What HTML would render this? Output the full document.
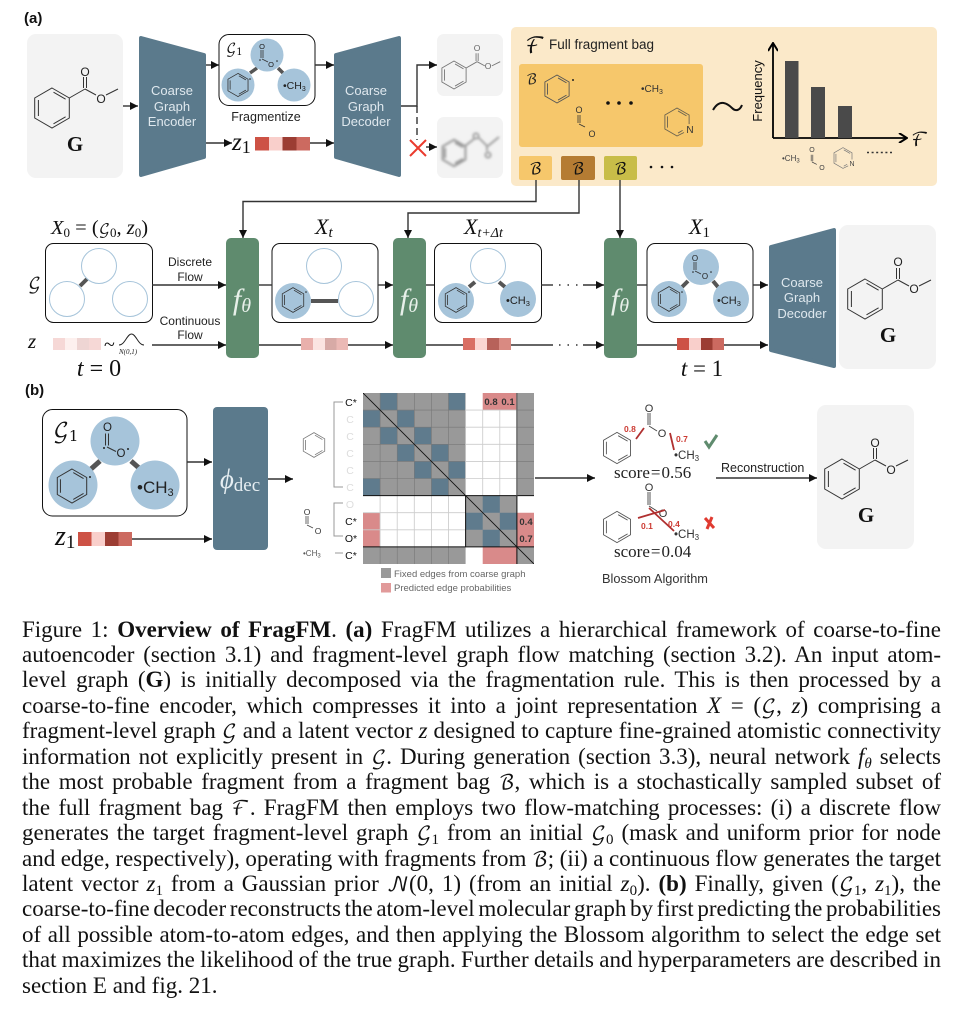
<!DOCTYPE html>
<html><head><meta charset="utf-8"><title>Figure 1: Overview of FragFM</title>
<style>
html,body{margin:0;padding:0;background:#fff}
#p{position:relative;width:953px;height:1017px;overflow:hidden;background:#fff;filter:blur(.3px)}
svg{position:absolute;left:0;top:0}
text{font-family:"Liberation Sans",sans-serif}
.m{font-family:"Liberation Serif",serif;font-style:italic}
.r{font-family:"Liberation Serif",serif}
.cal{font-family:"DejaVu Math TeX Gyre","DejaVu Serif","DejaVu Sans","Liberation Serif",serif;font-style:normal}
.w{fill:#dfe8ee;font-size:13px;text-anchor:middle}
.wf{fill:#e8f0ea;font-size:30px;text-anchor:middle}
.l{stroke:#333;stroke-width:1.4;fill:none}
.ar{stroke:#333;stroke-width:1.4;fill:none;marker-end:url(#a)}
#c{position:absolute;left:22px;top:616.5px;width:919px;font-family:"Liberation Serif",serif;font-size:23px;color:#111;word-spacing:-2.5px}
#c div{height:25.46px;line-height:25.46px;text-align:justify;text-align-last:justify;white-space:normal}
#c div.e{text-align-last:left;word-spacing:0}
#c sub{font-size:15px;line-height:0;vertical-align:-4px}
#c .cal{font-size:20px;line-height:0}
</style></head><body><div id="p">
<svg width="953" height="1017" viewBox="0 0 953 1017" xmlns="http://www.w3.org/2000/svg">
<defs>
<marker id="a" viewBox="0 0 10 10" refX="10" refY="5" markerWidth="8" markerHeight="8" markerUnits="userSpaceOnUse" orient="auto"><path d="M0 0L10 5L0 10z" fill="#111"/></marker>
<marker id="o" viewBox="0 0 10 10" refX="9" refY="5" markerWidth="10" markerHeight="10" markerUnits="userSpaceOnUse" orient="auto"><path d="M1 0L9 5L1 10" fill="none" stroke="#000" stroke-width="2"/></marker>
<filter id="bl" x="-20%" y="-20%" width="140%" height="140%"><feGaussianBlur stdDeviation="1.3"/></filter>
<g id="ring" fill="none">
<path vector-effect="non-scaling-stroke" d="M0-20L17.3-10V10L0 20L-17.3 10V-10zM-13.6-8V8M1.5-15.8L13.6-8.8M1.5 15.8L13.6 8.8"/>
</g>
<g id="mol" fill="none">
<path vector-effect="non-scaling-stroke" d="M0-20L17.3-10V10L0 20L-17.3 10V-10zM-13.6-8V8M1.5-15.8L13.6-8.8M1.5 15.8L13.6 8.8M17.3-10L33-19M31.5-20V-31M34.5-20V-31M33-19L44-13M54-13L66-19"/>
</g>
<g id="carb" fill="none">
<path vector-effect="non-scaling-stroke" d="M-1-1V-9M1-1V-9M0 0L6 3"/>
</g>
<g id="pyr" fill="none">
<path vector-effect="non-scaling-stroke" d="M17.3 3V-10L0-20L-17.3-10V10L0 20L10 15M-13.6-8V8M1.5-15.8L13.6-8.8M1.5 15.8L8 12"/>
</g>
</defs>

<!-- (a) top -->
<text x="24" y="23" font-size="15" font-weight="bold" fill="#111">(a)</text>
<rect x="27" y="34" width="96" height="144" rx="9" fill="#f3f3f3"/>
<use href="#mol" transform="translate(52,108)" stroke="#333" stroke-width="1"/>
<text x="85" y="76" font-size="12" text-anchor="middle" fill="#222">O</text>
<text x="101" y="103" font-size="12" text-anchor="middle" fill="#222">O</text>
<text x="75" y="151" class="r" font-size="21" font-weight="bold" text-anchor="middle" fill="#111">G</text>
<line class="ar" x1="123" y1="106" x2="138" y2="106"/>

<polygon points="141,38 204,55 204,157 141,175" fill="#5b7a8c" stroke="#5b7a8c" stroke-width="4" stroke-linejoin="round"/>
<text class="w" x="172" y="95">Coarse</text><text class="w" x="172" y="111">Graph</text><text class="w" x="172" y="126">Encoder</text>
<line class="ar" x1="206" y1="65" x2="219" y2="65"/>
<line class="ar" x1="206" y1="143" x2="232" y2="143"/>

<rect x="219" y="34.500" width="96" height="71" rx="10" fill="#fff" stroke="#111" stroke-width="1"/>
<line x1="250" y1="73" x2="257" y2="68" stroke="#555" stroke-width="3.500"/><line x1="278" y1="68" x2="283" y2="73" stroke="#555" stroke-width="3.500"/>
<circle cx="267" cy="55" r="16.500" fill="#a6c4da"/><circle cx="238" cy="85" r="16.500" fill="#a6c4da"/><circle cx="294" cy="85" r="16.500" fill="#a6c4da"/>
<use href="#ring" transform="translate(238,85) scale(.58)" stroke="#333" stroke-width=".8"/>
<circle cx="250" cy="79" r=".8" fill="#222"/>
<use href="#carb" transform="translate(262,59)" stroke="#333" stroke-width=".8"/>
<circle cx="260" cy="60" r=".8" fill="#222"/><circle cx="277" cy="61" r=".8" fill="#222"/>
<text x="262" y="49" font-size="7.500" text-anchor="middle" fill="#222">O</text>
<text x="271" y="67" font-size="7.500" text-anchor="middle" fill="#222">O</text>
<text x="283" y="89" font-size="10.500" fill="#222">•CH<tspan font-size="7" dy="2">3</tspan></text>
<text x="226" y="53" class="cal" font-size="13.500" fill="#111">𝒢<tspan font-size="10" dy="2">1</tspan></text>
<text x="266" y="121" font-size="12.500" text-anchor="middle" fill="#222">Fragmentize</text>
<line class="ar" x1="315" y1="65" x2="334" y2="65"/>

<text x="232" y="150" class="m" font-size="25" fill="#111">z<tspan class="r" font-style="normal" font-size="18" dy="3">1</tspan></text>
<rect x="255" y="137" width="14" height="13.500" fill="#cd5245"/><rect x="269" y="137" width="13.500" height="13.500" fill="#f9cfcb"/><rect x="282.500" y="137" width="14" height="13.500" fill="#9c3d33"/><rect x="296.500" y="137" width="13.500" height="13.500" fill="#cc6a60"/>
<line class="ar" x1="310" y1="143" x2="334" y2="143"/>

<polygon points="336,55 399,38 399,175 336,157" fill="#5b7a8c" stroke="#5b7a8c" stroke-width="4" stroke-linejoin="round"/>
<text class="w" x="366" y="95">Coarse</text><text class="w" x="366" y="111">Graph</text><text class="w" x="366" y="126">Decoder</text>

<path class="ar" d="M401 106H417V65H437"/>
<line x1="417" y1="106" x2="417" y2="140" stroke="#333" stroke-width="1.400" stroke-dasharray="7 4"/>
<line class="ar" x1="426" y1="147" x2="437" y2="147"/>
<path d="M410 140L426 156M426 140L410 156" stroke="#ea3b2e" stroke-width="2" fill="none"/>

<rect x="437" y="34" width="66" height="62" rx="7" fill="#f3f3f3"/>
<rect x="437" y="117" width="66" height="61" rx="7" fill="#f3f3f3"/>
<use href="#mol" transform="translate(454,75) scale(.7)" stroke="#777" stroke-width=".9"/>
<text x="477" y="51" font-size="8.500" text-anchor="middle" fill="#666">O</text><text x="488" y="69" font-size="8.500" text-anchor="middle" fill="#666">O</text>
<g filter="url(#bl)"><use href="#ring" transform="translate(454,153) scale(.66)" stroke="#999" stroke-width="2"/>
<path d="M465 146L474 139M479 138L487 146V151M488 146L499 137" fill="none" stroke="#999" stroke-width="1.800"/>
<circle cx="476" cy="136" r="2.600" fill="none" stroke="#999" stroke-width="1.800"/><circle cx="488" cy="155" r="2.600" fill="none" stroke="#999" stroke-width="1.800"/></g>

<!-- fragment bag -->
<rect x="511" y="27" width="426" height="159" rx="5" fill="#fbe9c9"/>
<text x="525" y="53" class="cal" font-size="22" fill="#111">ℱ</text>
<text x="549" y="49" font-size="13.500" fill="#222">Full fragment bag</text>
<rect x="519" y="64" width="184" height="83" rx="3" fill="#f6c76b"/>
<text x="526" y="84" class="cal" font-size="14" fill="#222">ℬ</text>
<use href="#ring" transform="translate(557,89) scale(.7)" stroke="#555" stroke-width=".9"/>
<circle cx="573" cy="80" r="1" fill="#222"/>
<use href="#carb" transform="translate(579,124)" stroke="#333" stroke-width=".8"/>
<text x="579" y="113" font-size="9" text-anchor="middle" fill="#333">O</text><text x="592" y="137" font-size="9" text-anchor="middle" fill="#333">O</text>
<text x="641" y="92" font-size="10" fill="#333">•CH<tspan font-size="7" dy="2">3</tspan></text>
<circle cx="608" cy="103" r="1.800" fill="#111"/><circle cx="619" cy="103" r="1.800" fill="#111"/><circle cx="631" cy="103" r="1.800" fill="#111"/>
<use href="#pyr" transform="translate(677,122) scale(.7)" stroke="#6b6350" stroke-width=".9"/>
<text x="690" y="133" font-size="10" text-anchor="middle" fill="#333">N</text>
<path d="M713 110C720 98 728 104 732 108C736 112 740 110 742 105" fill="none" stroke="#111" stroke-width="2"/>
<path d="M773 138V43" stroke="#000" stroke-width="1.800" fill="none" marker-end="url(#o)"/>
<path d="M773 138H907" stroke="#000" stroke-width="1.800" fill="none" marker-end="url(#o)"/>
<rect x="785" y="61" width="13.500" height="77" fill="#4a4a4a"/><rect x="811" y="87" width="14" height="51" fill="#4a4a4a"/><rect x="838" y="106" width="14" height="32" fill="#4a4a4a"/>
<text transform="translate(762,91) rotate(-90)" font-size="13" text-anchor="middle" fill="#111">Frequency</text>
<text x="911" y="146" class="cal" font-size="19" fill="#111">ℱ</text>
<text x="782" y="161" font-size="8" fill="#444">•CH<tspan font-size="6" dy="1.500">3</tspan></text>
<use href="#carb" transform="translate(812,162) scale(.8)" stroke="#444" stroke-width=".7"/>
<text x="812" y="152" font-size="7" text-anchor="middle" fill="#444">O</text><text x="822" y="170" font-size="7" text-anchor="middle" fill="#444">O</text>
<use href="#pyr" transform="translate(843,158) scale(.52)" stroke="#777" stroke-width=".7"/>
<text x="852" y="166" font-size="7" text-anchor="middle" fill="#444">N</text>
<path d="M867 152.500H893" stroke="#333" stroke-width="1.500" stroke-dasharray="2 2.600"/>
<rect x="519" y="156" width="33" height="24" rx="2" fill="#f6c76b"/><rect x="561" y="156" width="34" height="24" rx="2" fill="#b57c33"/><rect x="604" y="156" width="33" height="24" rx="2" fill="#c8bd48"/>
<text x="535.500" y="174" class="cal" font-size="16" text-anchor="middle" fill="#111">ℬ</text><text x="578" y="174" class="cal" font-size="16" text-anchor="middle" fill="#111">ℬ</text><text x="620.500" y="174" class="cal" font-size="16" text-anchor="middle" fill="#111">ℬ</text>
<circle cx="651" cy="167" r="1.300" fill="#111"/><circle cx="662" cy="167" r="1.300" fill="#111"/><circle cx="672" cy="167" r="1.300" fill="#111"/>

<path class="ar" d="M536 180V201.500H243V238"/>
<path class="ar" d="M579 180V213H408V238"/>
<path class="ar" d="M620 180V238"/>

<!-- flow row -->
<rect x="226" y="238" width="33" height="120" rx="5" fill="#5f8b6e"/>
<rect x="393" y="238" width="33" height="120" rx="5" fill="#5f8b6e"/>
<rect x="604" y="238" width="33" height="120" rx="5" fill="#5f8b6e"/>
<text class="wf m" x="242" y="309">f<tspan font-size="20" dy="3">θ</tspan></text>
<text class="wf m" x="409" y="309">f<tspan font-size="20" dy="3">θ</tspan></text>
<text class="wf m" x="620" y="309">f<tspan font-size="20" dy="3">θ</tspan></text>

<text x="51" y="234" class="m" font-size="20.500" fill="#111">X<tspan font-style="normal" font-size="13" dy="3">0</tspan><tspan font-style="normal" dy="-3"> = (</tspan><tspan class="cal" font-size="15">𝒢</tspan><tspan font-style="normal" font-size="13" dy="3">0</tspan><tspan font-style="normal" dy="-3">, </tspan>z<tspan font-style="normal" font-size="13" dy="3">0</tspan><tspan font-style="normal" dy="-3">)</tspan></text>
<text x="315" y="234" class="m" font-size="22" fill="#111">X<tspan font-size="15" dy="3">t</tspan></text>
<text x="464" y="234" class="m" font-size="22" fill="#111">X<tspan font-size="14" dy="3">t+Δt</tspan></text>
<text x="689" y="234" class="m" font-size="22" fill="#111">X<tspan font-style="normal" font-size="15" dy="3">1</tspan></text>

<rect x="45.500" y="243.500" width="107" height="79" rx="8" fill="#fff" stroke="#111"/>
<rect x="272" y="243.500" width="106" height="79" rx="8" fill="#fff" stroke="#111"/>
<rect x="434.500" y="243.500" width="107" height="79" rx="8" fill="#fff" stroke="#111"/>
<rect x="647" y="243.500" width="106" height="79" rx="8" fill="#fff" stroke="#111"/>

<g fill="#fff" stroke="#a6c4da" stroke-width="1">
<line x1="80" y1="286" x2="87" y2="279" stroke="#555" stroke-width="4"/>
<circle cx="99" cy="266" r="17.500"/><circle cx="67" cy="299" r="17.500"/><circle cx="130" cy="299" r="17.500"/>
<line x1="311" y1="301" x2="338" y2="301" stroke="#555" stroke-width="4"/>
<circle cx="324" cy="266" r="17.500"/><circle cx="356" cy="299" r="17.500"/>
<line x1="469" y1="287" x2="475" y2="282" stroke="#555" stroke-width="4"/><line x1="499" y1="282" x2="505" y2="287" stroke="#555" stroke-width="4"/>
<circle cx="488" cy="266" r="17.500"/>
<line x1="682" y1="287" x2="688" y2="281" stroke="#555" stroke-width="4"/><line x1="713" y1="281" x2="718" y2="287" stroke="#555" stroke-width="4"/>
</g>
<g fill="#a6c4da">
<circle cx="293" cy="301" r="18"/><circle cx="456" cy="301" r="18"/><circle cx="518" cy="299" r="18"/>
<circle cx="701" cy="267" r="18"/><circle cx="669" cy="299" r="18"/><circle cx="731" cy="299" r="18"/>
</g>
<use href="#ring" transform="translate(293,300) scale(.62)" stroke="#333" stroke-width=".8"/>
<use href="#ring" transform="translate(456,300) scale(.62)" stroke="#333" stroke-width=".8"/>
<use href="#ring" transform="translate(669,299) scale(.62)" stroke="#333" stroke-width=".8"/>
<circle cx="306" cy="292" r=".8" fill="#222"/><circle cx="469" cy="292" r=".8" fill="#222"/><circle cx="682" cy="292" r=".8" fill="#222"/>
<text x="506" y="304" font-size="11" fill="#222">•CH<tspan font-size="7.500" dy="2">3</tspan></text>
<text x="717" y="304" font-size="11" fill="#222">•CH<tspan font-size="7.500" dy="2">3</tspan></text>
<use href="#carb" transform="translate(695,271)" stroke="#333" stroke-width=".8"/>
<circle cx="693" cy="272" r=".8" fill="#222"/><circle cx="711" cy="272" r=".8" fill="#222"/>
<text x="695" y="261" font-size="8" text-anchor="middle" fill="#222">O</text><text x="705" y="279" font-size="8" text-anchor="middle" fill="#222">O</text>

<text x="28" y="289" class="cal" font-size="17" fill="#111">𝒢</text>
<text x="28" y="348" class="m" font-size="21" fill="#111">z</text>

<text x="190" y="266" font-size="12" text-anchor="middle" fill="#222">Discrete</text><text x="190" y="281" font-size="12" text-anchor="middle" fill="#222">Flow</text>
<text x="190" y="325" font-size="12" text-anchor="middle" fill="#222">Continuous</text><text x="190" y="339" font-size="12" text-anchor="middle" fill="#222">Flow</text>

<line class="ar" x1="152" y1="285" x2="226" y2="285"/>
<line class="ar" x1="152" y1="345" x2="226" y2="345"/>
<line class="l" x1="259" y1="285" x2="272" y2="285"/>
<line class="ar" x1="378" y1="285" x2="393" y2="285"/>
<line class="l" x1="426" y1="285" x2="434" y2="285"/>
<path class="l" d="M541 285H553"/><path d="M559 285H579" stroke="#333" stroke-width="1.400" stroke-dasharray="1.500 7"/>
<line class="ar" x1="583" y1="285" x2="604" y2="285"/>
<line class="l" x1="637" y1="285" x2="647" y2="285"/>
<line class="ar" x1="753" y1="285" x2="768" y2="285"/>

<line class="l" x1="259" y1="345" x2="301" y2="345"/>
<line class="ar" x1="348" y1="345" x2="393" y2="345"/>
<line class="l" x1="426" y1="345" x2="463" y2="345"/>
<path class="l" d="M511 345H553"/><path d="M559 345H579" stroke="#333" stroke-width="1.400" stroke-dasharray="1.500 7"/>
<line class="ar" x1="583" y1="345" x2="604" y2="345"/>
<line class="l" x1="637" y1="345" x2="677" y2="345"/>
<line class="ar" x1="724" y1="345" x2="768" y2="345"/>

<rect x="53" y="338" width="12" height="12" fill="#f6d8d6"/><rect x="65" y="338" width="12" height="12" fill="#fdf0ee"/><rect x="77" y="338" width="12" height="12" fill="#eed5d3"/><rect x="89" y="338" width="12" height="12" fill="#f6d8d6"/>
<rect x="301" y="338" width="12" height="12" fill="#e9b0ac"/><rect x="313" y="338" width="12" height="12" fill="#fbe4e1"/><rect x="325" y="338" width="11.500" height="12" fill="#d7aaa6"/><rect x="336.500" y="338" width="11.500" height="12" fill="#ebb9b5"/>
<rect x="463" y="338" width="12" height="12" fill="#d96f64"/><rect x="475" y="338" width="12" height="12" fill="#fbd6d2"/><rect x="487" y="338" width="12" height="12" fill="#b7625a"/><rect x="499" y="338" width="12" height="12" fill="#d98a82"/>
<rect x="677" y="338" width="12" height="12" fill="#cd5245"/><rect x="689" y="338" width="12" height="12" fill="#f9cfcb"/><rect x="701" y="338" width="11.500" height="12" fill="#9c3d33"/><rect x="712.500" y="338" width="11.500" height="12" fill="#cc6a60"/>

<text x="104" y="351" class="r" font-size="20" fill="#111">~</text>
<path d="M119 345C125 345 127 334 131.500 334C136 334 138 345 144 345" fill="none" stroke="#222" stroke-width="1"/>
<text x="119" y="354" class="m" font-size="7" fill="#222">N(0,1)</text>
<text x="99" y="376" class="m" font-size="24" text-anchor="middle" fill="#111">t<tspan font-style="normal"> = 0</tspan></text>
<text x="702" y="376" class="m" font-size="23" text-anchor="middle" fill="#111">t<tspan font-style="normal"> = 1</tspan></text>

<polygon points="771,247 834,230 834,366 771,350" fill="#5b7a8c" stroke="#5b7a8c" stroke-width="4" stroke-linejoin="round"/>
<text class="w" x="802" y="287">Coarse</text><text class="w" x="802" y="302">Graph</text><text class="w" x="802" y="318">Decoder</text>
<rect x="839" y="225" width="97" height="144" rx="9" fill="#f3f3f3"/>
<use href="#mol" transform="translate(865,299)" stroke="#333" stroke-width="1"/>
<text x="898" y="266" font-size="12" text-anchor="middle" fill="#222">O</text><text x="914" y="293" font-size="12" text-anchor="middle" fill="#222">O</text>
<text x="888" y="342" class="r" font-size="21" font-weight="bold" text-anchor="middle" fill="#111">G</text>

<!-- (b) -->
<text x="25" y="395" font-size="15" font-weight="bold" fill="#111">(b)</text>
<rect x="42.500" y="409.500" width="144.500" height="106.500" rx="10" fill="#fff" stroke="#111"/>
<line x1="91" y1="469" x2="100" y2="461" stroke="#555" stroke-width="5"/><line x1="131" y1="461" x2="139" y2="468" stroke="#555" stroke-width="5"/>
<circle cx="115" cy="441" r="24.500" fill="#a6c4da"/><circle cx="73" cy="485" r="24.500" fill="#a6c4da"/><circle cx="155" cy="485" r="24.500" fill="#a6c4da"/>
<use href="#ring" transform="translate(72,486) scale(.85)" stroke="#333" stroke-width="1"/>
<circle cx="90" cy="477" r="1" fill="#222"/>
<use href="#carb" transform="translate(107,447) scale(1.500)" stroke="#333" stroke-width="1"/>
<circle cx="104" cy="448" r="1" fill="#222"/><circle cx="128" cy="449" r="1" fill="#222"/>
<text x="107.500" y="431" font-size="11.500" text-anchor="middle" fill="#222">O</text>
<text x="121" y="457" font-size="11.500" text-anchor="middle" fill="#222">O</text>
<text x="137" y="493" font-size="17" fill="#222">•CH<tspan font-size="11" dy="3">3</tspan></text>
<text x="53" y="438" class="cal" font-size="21" fill="#111">𝒢<tspan font-size="15" dy="3">1</tspan></text>
<line class="ar" x1="187" y1="462" x2="212" y2="462"/>
<text x="55" y="545" class="m" font-size="28" fill="#111">z<tspan font-style="normal" font-size="19" dy="3">1</tspan></text>
<rect x="78" y="532" width="13.500" height="14" fill="#cd5245"/><rect x="91.500" y="532" width="13.500" height="14" fill="#f9cfcb"/><rect x="105" y="532" width="13.500" height="14" fill="#9c3d33"/><rect x="118.500" y="532" width="13.500" height="14" fill="#cc6a60"/>
<line class="ar" x1="132" y1="539" x2="212" y2="539"/>
<rect x="213" y="407" width="55" height="143" rx="4" fill="#5b7a8c"/>
<text x="240" y="488" class="m" font-size="27" text-anchor="middle" fill="#e6eef2">ϕ<tspan class="r" font-style="normal" font-size="19" dy="3">dec</tspan></text>
<line class="ar" x1="268" y1="479" x2="293" y2="479"/>

<!-- matrix labels -->
<use href="#ring" transform="translate(314,445) scale(.62)" stroke="#777" stroke-width=".8"/>
<use href="#carb" transform="translate(307,525)" stroke="#444" stroke-width=".8"/>
<text x="307" y="515" font-size="8.500" text-anchor="middle" fill="#333">O</text><text x="318" y="534" font-size="8.500" text-anchor="middle" fill="#333">O</text>
<text x="303" y="556" font-size="8" fill="#555">•CH<tspan font-size="6" dy="1.500">3</tspan></text>
<path d="M343 402H334V487H343M343 503H334V536H343M335 553H343" fill="none" stroke="#999" stroke-width="1"/>
<g font-size="10.500" text-anchor="middle">
<text x="351" y="406" fill="#111">C*</text>
<text x="350" y="423" fill="#ddd">C</text><text x="350" y="440" fill="#ddd">C</text><text x="350" y="457" fill="#ddd">C</text><text x="350" y="474" fill="#ddd">C</text><text x="350" y="491" fill="#ddd">C</text>
<text x="350" y="508" fill="#ddd">O</text>
<text x="351" y="525" fill="#111">C*</text><text x="351" y="542" fill="#111">O*</text><text x="351" y="559" fill="#111">C*</text>
</g>

<!-- matrix -->
<svg x="363" y="393" width="171" height="171" viewBox="0 0 10 10">
<rect width="10" height="10" fill="#fff"/>
<path fill="#999" d="M0 0h6v6h-6zM9 0h1v6h-1zM6 6h3v3h-3zM0 9h6v1h-6zM9 9h1v1h-1z"/>
<path fill="#5f7b8d" d="M1 0h1v1h-1zM5 0h1v1h-1zM0 1h1v1h-1zM2 1h1v1h-1zM1 2h1v1h-1zM3 2h1v1h-1zM2 3h1v1h-1zM4 3h1v1h-1zM3 4h1v1h-1zM5 4h1v1h-1zM0 5h1v1h-1zM4 5h1v1h-1zM7 6h1v1h-1zM6 7h1v1h-1zM8 7h1v1h-1zM7 8h1v1h-1z"/>
<path fill="#d98a8a" d="M7 0h2v1h-2zM0 7h1v2h-1zM9 7h1v2h-1zM7 9h2v1h-2z"/>
<path stroke="#777" stroke-width=".035" fill="none" d="M0 1H6M0 2H6M0 3H6M0 4H6M0 5H6M1 0V6M2 0V6M3 0V6M4 0V6M5 0V6M1 9V10M2 9V10M3 9V10M4 9V10M5 9V10M9 1H10M9 2H10M9 3H10M9 4H10M9 5H10"/>
<path stroke="#ccc" stroke-width=".05" fill="none" d="M6 1H9M6 2H9M6 3H9M6 4H9M6 5H9M7 1V6M8 1V6M0 7H6M0 8H6M1 6V9M2 6V9M3 6V9M4 6V9M5 6V9M6 0V6M9 6V7"/>
<path stroke="#111" stroke-width=".06" fill="none" d="M0 6H10M0 9H10M6 6V9M9 6V10"/>
<path stroke="#666" stroke-width=".08" fill="none" d="M9 0V6"/>
<path stroke="#111" stroke-width=".05" fill="none" d="M0 0L10 10"/>
</svg>
<g font-size="9.500" font-weight="bold" fill="#333" text-anchor="middle">
<text x="491" y="405">0.8</text><text x="508" y="405">0.1</text><text x="526" y="525">0.4</text><text x="526" y="542">0.7</text>
</g>
<rect x="381" y="568" width="10" height="10" fill="#999"/><rect x="381" y="583" width="10" height="9.500" fill="#e19a9a"/>
<text x="394" y="577" font-size="9.500" fill="#666">Fixed edges from coarse graph</text>
<text x="394" y="591" font-size="9.500" fill="#666">Predicted edge probabilities</text>
<line class="ar" x1="535" y1="478" x2="595" y2="478"/>

<!-- blossom -->
<use href="#ring" transform="translate(617,448) scale(.78)" stroke="#555" stroke-width=".9"/>
<path d="M648 425V413M650 425V413M649 426L657 431" stroke="#444" stroke-width=".9" fill="none"/>
<text x="649" y="412" font-size="11" text-anchor="middle" fill="#333">O</text><text x="662" y="437" font-size="11" text-anchor="middle" fill="#333">O</text>
<text x="674" y="459" font-size="11.500" fill="#333">•CH<tspan font-size="8" dy="2">3</tspan></text>
<path d="M636 439L644 428M670 433L674 450" stroke="#b03030" stroke-width="1.800" fill="none"/>
<text x="624" y="432" font-size="8.500" font-weight="bold" fill="#cc3b33">0.8</text>
<text x="676" y="442" font-size="8.500" font-weight="bold" fill="#cc3b33">0.7</text>
<path d="M705 441L709 447L717 435" fill="none" stroke="#5f8b6e" stroke-width="3"/>
<text x="614" y="478" class="r" font-size="17" fill="#222">score<tspan dx="1">=</tspan><tspan dx="1">0.56</tspan></text>

<use href="#ring" transform="translate(617,527) scale(.78)" stroke="#555" stroke-width=".9"/>
<path d="M648 505V492M650 505V492M649 506L657 511" stroke="#444" stroke-width=".9" fill="none"/>
<text x="649" y="491" font-size="11" text-anchor="middle" fill="#333">O</text><text x="663" y="517" font-size="11" text-anchor="middle" fill="#333">O</text>
<text x="674" y="538" font-size="11.500" fill="#333">•CH<tspan font-size="8" dy="2">3</tspan></text>
<path d="M638 518L665 510M649 508L674 531" stroke="#b03030" stroke-width="1.800" fill="none"/>
<text x="641" y="529" font-size="8.500" font-weight="bold" fill="#cc3b33">0.1</text>
<text x="668" y="527" font-size="8.500" font-weight="bold" fill="#cc3b33">0.4</text>
<path d="M707 529L712 517M705 518L714 528" fill="none" stroke="#e03a30" stroke-width="3"/>
<text x="614" y="557" class="r" font-size="17" fill="#222">score<tspan dx="1">=</tspan><tspan dx="1">0.04</tspan></text>
<text x="602" y="583" font-size="12.800" fill="#333">Blossom Algorithm</text>

<text x="721" y="472" font-size="12.500" fill="#222">Reconstruction</text>
<line class="ar" x1="716" y1="478" x2="817" y2="478"/>
<rect x="817" y="405" width="97" height="144" rx="9" fill="#f3f3f3"/>
<use href="#mol" transform="translate(842,479)" stroke="#333" stroke-width="1"/>
<text x="875" y="447" font-size="12" text-anchor="middle" fill="#222">O</text><text x="891" y="474" font-size="12" text-anchor="middle" fill="#222">O</text>
<text x="866" y="522" class="r" font-size="21" font-weight="bold" text-anchor="middle" fill="#111">G</text>
</svg>

<div id="c">
<div>Figure 1: <b>Overview of FragFM</b>. <b>(a)</b> FragFM utilizes a hierarchical framework of coarse-to-fine</div>
<div>autoencoder (section 3.1) and fragment-level graph flow matching (section 3.2). An input atom-</div>
<div>level graph (<b>G</b>) is initially decomposed via the fragmentation rule. This is then processed by a</div>
<div>coarse-to-fine encoder, which compresses it into a joint representation <i>X</i> = (<span class="cal">𝒢</span>, <i>z</i>) comprising a</div>
<div>fragment-level graph <span class="cal">𝒢</span> and a latent vector <i>z</i> designed to capture fine-grained atomistic connectivity</div>
<div>information not explicitly present in <span class="cal">𝒢</span>. During generation (section 3.3), neural network <i>f<sub>θ</sub></i> selects</div>
<div>the most probable fragment from a fragment bag <span class="cal">ℬ</span>, which is a stochastically sampled subset of</div>
<div>the full fragment bag <span class="cal">ℱ</span>. FragFM then employs two flow-matching processes: (i) a discrete flow</div>
<div>generates the target fragment-level graph <span class="cal">𝒢</span><sub>1</sub> from an initial <span class="cal">𝒢</span><sub>0</sub> (mask and uniform prior for node</div>
<div>and edge, respectively), operating with fragments from <span class="cal">ℬ</span>; (ii) a continuous flow generates the target</div>
<div>latent vector <i>z</i><sub>1</sub> from a Gaussian prior <span class="cal">𝒩</span>(0, 1) (from an initial <i>z</i><sub>0</sub>). <b>(b)</b> Finally, given (<span class="cal">𝒢</span><sub>1</sub>, <i>z</i><sub>1</sub>), the</div>
<div>coarse-to-fine decoder reconstructs the atom-level molecular graph by first predicting the probabilities</div>
<div>of all possible atom-to-atom edges, and then applying the Blossom algorithm to select the edge set</div>
<div>that maximizes the likelihood of the true graph. Further details and hyperparameters are described in</div>
<div class="e">section E and fig. 21.</div>
</div>
</div></body></html>
